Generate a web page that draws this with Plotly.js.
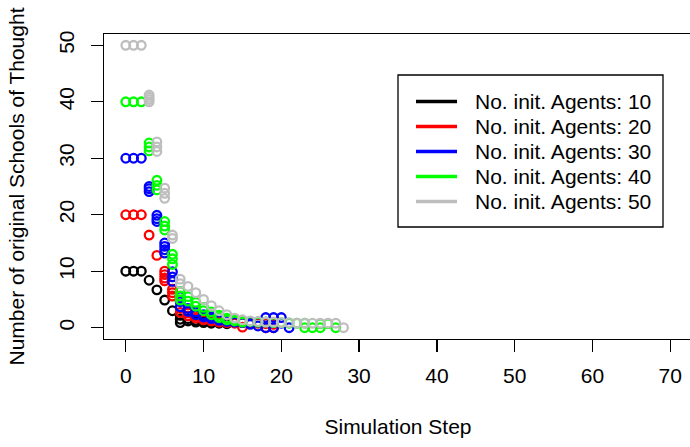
<!DOCTYPE html>
<html><head><meta charset="utf-8">
<script src="https://cdn.plot.ly/plotly-3.0.1.min.js"></script>
<style>html,body{margin:0;padding:0;overflow:hidden;background:#fff}</style>
</head><body><div id="chart" style="width:700px;height:447px"></div>
<script>
// ---------- data ----------
const agentCounts = [10, 20, 30, 40, 50];
const xTicks = [0, 10, 20, 30, 40, 50, 60, 70];
const yTicks = [0, 10, 20, 30, 40, 50];

const steps10  = [0,1,2,3,4,5,6,7,7,7,8,8,9,9,10,10,11,11,12,13];
const values10 = [10,10,10,8.4,6.7,4.9,3.0,2.2,1.5,0.9,1.6,1.2,1.3,1.0,1.1,0.9,1.0,0.8,0.8,0.7];

const steps20  = [0,1,2,3,4,5,5,5,5,6,6,6,7,7,8,8,9,9,10,10,11,11,12,12,13,13,14,14,15,15,16,17,18,18,19,19];
const values20 = [20,20,20,16.4,12.8,10.0,9.4,8.8,8.3,6.8,6.2,5.6,3.4,2.7,2.6,2.1,2.1,1.7,1.7,1.4,1.4,1.2,1.2,1.0,1.1,0.9,1.0,0.8,0.9,0.1,0.8,0.8,0.7,0.0,0.6,0.0];

const steps30  = [0,1,2,3,3,3,4,4,4,5,5,5,5,6,6,6,7,7,7,8,8,9,9,10,10,11,11,12,12,13,13,14,14,15,15,16,16,17,17,18,18,19,19,20,20,21];
const values30 = [30,30,30,25.0,24.6,24.1,19.9,19.3,18.8,15.0,14.4,13.8,13.2,9.9,9.0,8.2,5.5,4.6,3.7,3.4,2.9,2.8,2.3,2.3,1.9,1.9,1.6,1.6,1.3,1.4,1.1,1.2,1.0,1.1,0.9,1.0,0.6,1.0,0.3,1.8,0.0,1.8,0.0,1.8,0.8,0.0];

const steps40  = [0,1,2,3,3,3,4,4,4,5,5,5,6,6,6,7,7,7,8,8,9,9,10,10,11,11,12,12,13,13,14,14,15,15,16,17,18,19,20,21,22,23,23,24,25,25,26,27];
const values40 = [40,40,40,32.7,32.0,31.3,26.1,25.2,24.4,18.8,18.0,17.3,13.0,12.2,11.2,6.4,5.6,4.9,5.5,4.7,4.5,3.8,3.6,3.0,2.8,2.3,2.2,1.8,1.7,1.4,1.4,1.2,1.2,1.0,1.1,1.0,1.0,0.9,0.9,0.8,0.8,0.8,0.0,0.0,0.7,0.0,0.7,0.0];

const steps50  = [0,1,2,3,3,3,3,4,4,4,5,5,5,6,6,7,7,8,9,10,11,12,13,14,15,16,17,18,19,20,21,22,23,24,25,26,27,28];
const values50 = [50,50,50,41.2,40.8,40.4,40.0,32.9,32.0,31.2,24.7,23.8,22.9,16.4,15.8,8.6,7.8,7.3,6.2,5.0,3.9,3.0,2.3,1.7,1.4,1.2,1.1,1.0,1.0,0.9,0.9,0.8,0.8,0.8,0.8,0.8,0.8,0.0];

const legendPrefix = 'No. init. Agents: ';

// ---------- styles ----------
const seriesColors = ['#000000', '#FF0000', '#0000FF', '#00FF00', '#BEBEBE'];
const FONT = 'Liberation Sans, Arial, Helvetica, sans-serif';
const FS = 21;

const allSteps = [steps10, steps20, steps30, steps40, steps50];
const allValues = [values10, values20, values30, values40, values50];

const traces = agentCounts.map((n, i) => ({
  type: 'scatter', mode: 'markers',
  x: allSteps[i], y: allValues[i],
  name: legendPrefix + n,
  showlegend: false,
  marker: { symbol: 'circle-open', size: 8.6, color: seriesColors[i], line: { width: 2.3, color: seriesColors[i] } },
  hoverinfo: 'x+y+name'
}));

// ---------- layout geometry ----------
const W = 700, H = 447, L = 104, R = 8, T = 34, B = 108;
const pw = W - L - R, ph = H - T - B;
const pX = p => (p - L) / pw;
const pY = p => (H - B - p) / ph;

const shapes = [{
  type: 'rect', xref: 'paper', yref: 'paper',
  x0: pX(398), x1: pX(663), y0: pY(227), y1: pY(75),
  line: { color: '#000', width: 1.3 }, fillcolor: '#fff', layer: 'above'
}];
const annotations = [];
agentCounts.forEach((n, i) => {
  const ry = 101.5 + 25 * i;
  shapes.push({
    type: 'line', xref: 'paper', yref: 'paper',
    x0: pX(416), x1: pX(457), y0: pY(ry), y1: pY(ry),
    line: { color: seriesColors[i], width: 3.3 }, layer: 'above'
  });
  annotations.push({
    xref: 'paper', yref: 'paper', x: pX(473), y: pY(ry),
    xanchor: 'left', yanchor: 'middle', showarrow: false,
    text: legendPrefix + n, font: { family: FONT, size: FS, color: '#000' }
  });
});

const axisCommon = {
  showgrid: false, zeroline: false,
  showline: true, mirror: true, linecolor: '#000', linewidth: 1.3,
  ticks: 'outside', ticklen: 12, tickwidth: 1.3, tickcolor: '#000',
  tickfont: { family: FONT, size: FS, color: '#000' }
};

const layout = {
  width: W, height: H,
  margin: { l: L, r: R, t: T, b: B, pad: 0 },
  paper_bgcolor: '#fff', plot_bgcolor: '#fff',
  font: { family: FONT, size: FS, color: '#000' },
  showlegend: false,
  xaxis: Object.assign({}, axisCommon, {
    range: [-2.8, 72.8], tickmode: 'array', tickvals: xTicks, ticktext: xTicks.map(String),
    ticklabelstandoff: 5,
    title: { text: 'Simulation Step', font: { family: FONT, size: FS, color: '#000' }, standoff: 33 }
  }),
  yaxis: Object.assign({}, axisCommon, {
    range: [-2, 52], tickmode: 'array', tickvals: yTicks, ticktext: yTicks.map(String),
    tickangle: -90, ticklabelstandoff: 8,
    title: { text: 'Number of original Schools of Thought', font: { family: FONT, size: FS, color: '#000' }, standoff: 25 }
  }),
  shapes: shapes, annotations: annotations
};

Plotly.newPlot('chart', traces, layout, { displayModeBar: false, staticPlot: true });
</script>
</body></html>
